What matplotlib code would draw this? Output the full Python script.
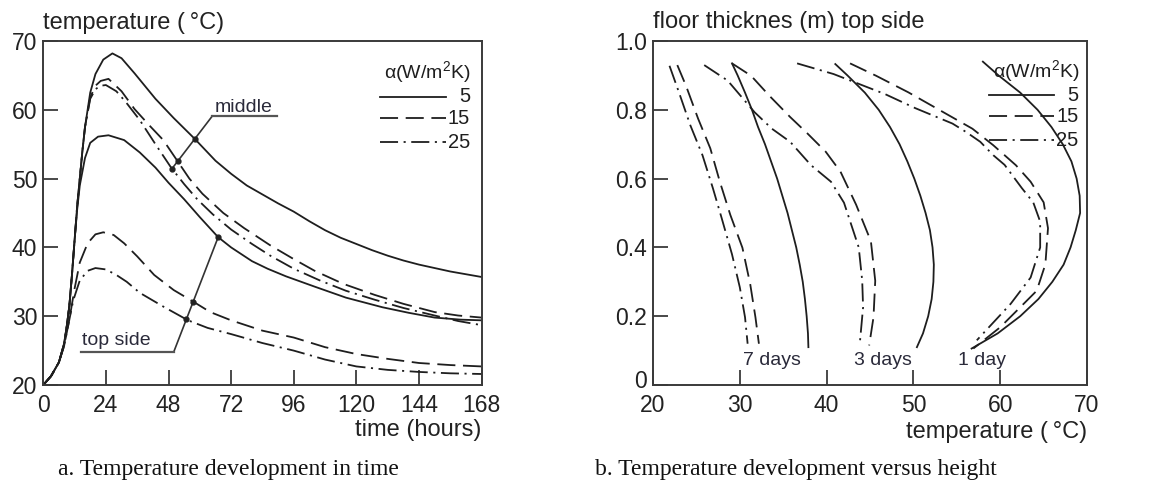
import numpy as np
import matplotlib
matplotlib.use("Agg")
import matplotlib.pyplot as plt
import matplotlib.transforms as mtransforms

plt.rcParams['font.family'] = ['Liberation Sans', 'DejaVu Sans']
plt.rcParams['mathtext.fontset'] = 'custom'
plt.rcParams['mathtext.rm'] = 'Liberation Sans'
plt.rcParams['mathtext.it'] = 'Liberation Sans:italic'
plt.rcParams['lines.scale_dashes'] = False

# ---------------- data: panel a (time, temperature) ----------------
rise_t = [0, 3, 6, 8, 9, 10, 11, 12, 13]
rise_T = [20, 21.3, 23.3, 26, 28.5, 31.5, 36, 41, 46]

mid5_t = rise_t + [14, 15, 16, 18, 20, 23, 26.5, 30, 35, 43, 50, 58, 66, 72, 78, 84, 90, 96, 102, 108, 114, 120, 126, 132, 138, 144, 150, 156, 162, 168]
mid5_T = rise_T + [50, 54, 57.5, 62.5, 65.2, 67.3, 68.2, 67.5, 65.3, 61.6, 58.8, 55.8, 52.6, 50.7, 49.0, 47.7, 46.4, 45.2, 43.8, 42.5, 41.4, 40.5, 39.6, 38.8, 38.1, 37.5, 37.0, 36.5, 36.1, 35.7]

mid15_t = rise_t + [14, 15, 16, 18, 20, 22, 25, 30, 35, 41, 46, 51, 56, 61, 69, 77, 87, 96, 104, 115, 127, 138, 150, 159, 168]
mid15_T = rise_T + [50, 54, 57.5, 61.8, 63.5, 64.2, 64.5, 62.7, 60.1, 57.6, 55.6, 52.8, 50.0, 47.8, 45.0, 42.8, 40.3, 38.3, 36.6, 34.7, 33.1, 31.8, 30.6, 30.1, 29.8]

mid25_t = rise_t + [14, 15, 16, 18, 20, 22, 24, 28, 31.5, 37, 43, 49, 54, 59, 65, 72, 80, 87, 96, 106, 116, 127, 138, 150, 159, 168]
mid25_T = rise_T + [50, 54, 57.5, 61.6, 63.0, 63.5, 63.6, 62.7, 61.2, 58.5, 55.0, 51.6, 49.2, 47.0, 44.8, 42.6, 40.5, 38.8, 36.9, 35.2, 33.7, 32.4, 31.2, 30.1, 29.3, 28.7]

top5_t = rise_t + [14, 16, 18, 21, 25, 31, 37, 43, 48, 54, 60, 67, 72, 80, 86, 93, 104, 110, 116, 130, 140, 150, 160, 168]
top5_T = rise_T[:-1] + [45.5, 49, 53, 55.2, 56.1, 56.3, 55.6, 53.8, 51.6, 49.4, 47.0, 44.4, 41.5, 40.0, 38.0, 36.9, 35.8, 34.3, 33.5, 32.7, 31.3, 30.5, 29.8, 29.5, 29.4]

top15_t = [0, 3, 6, 8, 10, 12, 14, 17, 20, 23, 27, 31, 36, 42.5, 50, 58, 64, 72, 84, 96, 108, 120, 132, 144, 156, 168]
top15_T = [20, 21.3, 23.3, 25.7, 29.5, 34, 37.8, 40.6, 41.9, 42.2, 41.8, 40.6, 38.7, 36.0, 33.8, 32.0, 30.6, 29.4, 27.9, 26.9, 25.5, 24.5, 23.8, 23.2, 22.9, 22.7]

top25_t = [0, 3, 6, 8, 10, 11.5, 14, 17, 20, 24, 28, 32, 37, 46, 55.5, 63, 72, 84, 96, 108, 120, 132, 144, 156, 168]
top25_T = [20, 21.3, 23.3, 25.7, 29.5, 32.3, 35.2, 36.6, 37.0, 36.8, 36.0, 35.0, 33.4, 31.4, 29.4, 28.3, 27.4, 26.1, 25.0, 23.7, 22.7, 22.2, 21.9, 21.7, 21.6]

# ---------------- data: panel b (temperature, height) ----------------
d7_5_h = [0.935, 0.90, 0.85, 0.80, 0.75, 0.70, 0.65, 0.60, 0.55, 0.50, 0.45, 0.40, 0.35, 0.30, 0.25, 0.20, 0.15, 0.11]
d7_5_T = [29.1, 29.75, 30.6, 31.4, 32.1, 32.9, 33.6, 34.3, 34.9, 35.5, 36.0, 36.5, 36.9, 37.25, 37.5, 37.7, 37.85, 37.9]
d7_15_h = [0.93, 0.87, 0.774, 0.688, 0.591, 0.495, 0.399, 0.293, 0.197, 0.12]
d7_15_T = [22.8, 23.8, 25.2, 26.6, 27.7, 28.9, 30.3, 31.2, 31.8, 32.2]
d7_25_h = [0.928, 0.85, 0.755, 0.668, 0.572, 0.486, 0.38, 0.284, 0.197, 0.12]
d7_25_T = [21.9, 23.0, 24.3, 25.7, 26.9, 27.9, 29.1, 30.0, 30.6, 30.9]

d3_5_h = [0.933, 0.90, 0.85, 0.80, 0.75, 0.70, 0.65, 0.60, 0.55, 0.50, 0.45, 0.40, 0.35, 0.30, 0.25, 0.20, 0.15, 0.11]
d3_5_T = [41.0, 42.4, 44.4, 46.0, 47.3, 48.4, 49.3, 50.1, 50.8, 51.4, 51.9, 52.2, 52.35, 52.3, 52.1, 51.7, 51.1, 50.4]
d3_15_h = [0.935, 0.899, 0.841, 0.779, 0.731, 0.678, 0.62, 0.524, 0.418, 0.303, 0.197, 0.115]
d3_15_T = [29.1, 31.3, 33.4, 35.8, 37.8, 39.9, 41.6, 43.4, 45.1, 45.6, 45.4, 44.9]
d3_25_h = [0.93, 0.885, 0.793, 0.745, 0.707, 0.639, 0.591, 0.53, 0.4, 0.303, 0.226, 0.115]
d3_25_T = [25.9, 28.6, 31.7, 33.7, 35.8, 38.2, 40.5, 42.0, 43.7, 44.1, 44.2, 43.8]

d1_5_h = [0.94, 0.90, 0.85, 0.80, 0.75, 0.70, 0.65, 0.60, 0.55, 0.50, 0.45, 0.40, 0.35, 0.30, 0.25, 0.20, 0.15, 0.106]
d1_5_T = [58.0, 59.8, 62.3, 64.3, 65.9, 67.2, 68.2, 68.8, 69.15, 69.2, 68.7, 68.1, 67.3, 66.0, 64.4, 62.3, 59.7, 56.7]
d1_15_h = [0.935, 0.899, 0.851, 0.798, 0.745, 0.697, 0.639, 0.591, 0.531, 0.456, 0.351, 0.274, 0.226, 0.168, 0.106]
d1_15_T = [42.7, 45.7, 49.4, 53.1, 56.8, 59.2, 61.8, 63.5, 65.0, 65.5, 65.2, 64.2, 62.3, 60.0, 56.9]
d1_25_h = [0.935, 0.904, 0.846, 0.805, 0.76, 0.735, 0.707, 0.668, 0.64, 0.572, 0.531, 0.475, 0.40, 0.3125, 0.236, 0.13]
d1_25_T = [36.6, 40.8, 46.7, 50.2, 54.5, 56.1, 57.7, 59.2, 60.5, 62.5, 63.8, 64.6, 64.6, 63.5, 61.2, 57.3]

alpha_labels = ["5", "15", "25"]
time_ticks = [0, 24, 48, 72, 96, 120, 144, 168]
tempA_ticks = [20, 30, 40, 50, 60, 70]
tempB_ticks = [20, 30, 40, 50, 60, 70]
height_ticks = [0, 0.2, 0.4, 0.6, 0.8, 1.0]
height_labels = ["0", "0.2", "0.4", "0.6", "0.8", "1.0"]

# ---------------- styles ----------------
INK = '#1e1e1e'
LW = 1.3
styles = [dict(linestyle='-'),
          dict(linestyle=(0, (13, 5.5))),
          dict(linestyle=(0, (13, 4, 1.5, 4)))]

fig = plt.figure(figsize=(11.69, 4.86), dpi=100)
axA = fig.add_axes([0.0370, 0.2078, 0.3750, 0.7078])
axB = fig.add_axes([0.5586, 0.2078, 0.3713, 0.7078])

for ax in (axA, axB):
    for s in ax.spines.values():
        s.set_linewidth(1.4)
        s.set_color('#3a3a3a')
    ax.tick_params(direction='in', length=11, width=1.3, color='#3a3a3a',
                   labelsize=16.5, labelcolor='#222222')
    ax.tick_params(axis='x', pad=6.5)
    ax.tick_params(axis='y', pad=4.3)

# ---- panel a ----
for (x, y), st in zip([(mid5_t, mid5_T), (mid15_t, mid15_T), (mid25_t, mid25_T)], styles):
    axA.plot(x, y, color=INK, lw=LW, **st)
for (x, y), st in zip([(top5_t, top5_T), (top15_t, top15_T), (top25_t, top25_T)], styles):
    axA.plot(x, y, color=INK, lw=LW, **st)

axA.set_xlim(0, 168)
axA.set_ylim(20, 70)
axA.set_xticks(time_ticks)
axA.set_yticks(tempA_ticks)


def crossing(p0, p1, xs, ys):
    """intersection of segment p0-p1 with a polyline"""
    best = None
    x0, y0 = p0
    dx, dy = p1[0] - x0, p1[1] - y0
    for i in range(len(xs) - 1):
        ax_, ay_ = xs[i], ys[i]
        bx, by = xs[i + 1], ys[i + 1]
        ex, ey = bx - ax_, by - ay_
        den = dx * ey - dy * ex
        if abs(den) < 1e-12:
            continue
        s = ((ax_ - x0) * ey - (ay_ - y0) * ex) / den
        u = ((ax_ - x0) * dy - (ay_ - y0) * dx) / den
        if 0 <= s <= 1 and 0 <= u <= 1:
            if best is None or s < best[0]:
                best = (s, x0 + s * dx, y0 + s * dy)
    return best


def leader(ax, start, towards, curves):
    pts = [crossing(start, towards, x, y) for x, y in curves]
    pts = [p for p in pts if p is not None]
    end = max(pts, key=lambda p: p[0])
    ax.plot([start[0], end[1]], [start[1], end[2]], color='#333333', lw=1.2)
    ax.plot([p[1] for p in pts], [p[2] for p in pts], 'o', ms=3.5, color='#222222')


leader(axA, (64.8, 59.1), (45.0, 49.3),
       [(mid5_t, mid5_T), (mid15_t, mid15_T), (mid25_t, mid25_T)])
axA.plot([64.8, 89.6], [59.1, 59.1], color='#555555', lw=1.6)
axA.text(65.6, 59.7, "middle", fontsize=14, color='#2a2a3a', va='baseline', ha='left')

leader(axA, (50.0, 24.8), (70.0, 44.4),
       [(top15_t, top15_T), (top25_t, top25_T), (top5_t, top5_T)])
axA.plot([14.5, 50.0], [24.8, 24.8], color='#555555', lw=1.6)
axA.text(14.8, 25.8, "top side", fontsize=14, color='#2a2a3a', va='baseline', ha='left')

# legend a
axA.text(147, 65.5, r"α(W/m$^{2}$K)", fontsize=14, ha='center', va='center', color=INK)
for yy, st, lab in zip([61.9, 58.8, 55.3], styles, alpha_labels):
    axA.plot([129, 154.2], [yy, yy], color=INK, lw=LW, **st)
    axA.text(163.5, yy, lab, fontsize=14.5, ha='right', va='center', color=INK)

axA.text(0, 1.052, "temperature (\u2009°C)", transform=axA.transAxes, fontsize=17,
         ha='left', va='center', color='#222222')
axA.text(1.0, -0.131, "time (hours)", transform=axA.transAxes, fontsize=17,
         ha='right', va='center', color='#222222')

# ---- panel b ----
groups = [[(d7_5_T, d7_5_h), (d7_15_T, d7_15_h), (d7_25_T, d7_25_h)],
          [(d3_5_T, d3_5_h), (d3_15_T, d3_15_h), (d3_25_T, d3_25_h)],
          [(d1_5_T, d1_5_h), (d1_15_T, d1_15_h), (d1_25_T, d1_25_h)]]
for grp in groups:
    for (x, y), st in zip(grp, styles):
        axB.plot(x, y, color=INK, lw=LW, **st)

axB.set_xlim(20, 70)
axB.set_ylim(0, 1.0)
axB.set_xticks(tempB_ticks)
axB.set_yticks(height_ticks)
axB.set_yticklabels(height_labels)
# lift the bottom "0" label a little so it clears the "20" below it
lbl0 = axB.get_yticklabels()[0]
lbl0.set_transform(lbl0.get_transform() +
                   mtransforms.ScaledTranslation(0, 4 / 72, fig.dpi_scale_trans))

for txt, xx in zip(["7 days", "3 days", "1 day"], [30.4, 43.1, 55.1]):
    axB.text(xx, 0.072, txt, fontsize=14, ha='left', va='center', color='#2a2a3a')

axB.text(64.1, 0.913, r"α(W/m$^{2}$K)", fontsize=14, ha='center', va='center', color=INK)
for yy, st, lab in zip([0.842, 0.781, 0.712], styles, alpha_labels):
    axB.plot([58.7, 66.2], [yy, yy], color=INK, lw=LW, **st)
    axB.text(69.0, yy, lab, fontsize=14.5, ha='right', va='center', color=INK)

axB.text(0, 1.055, "floor thicknes (m) top side", transform=axB.transAxes, fontsize=17,
         ha='left', va='center', color='#222222')
axB.text(1.0, -0.137, "temperature (\u2009°C)", transform=axB.transAxes, fontsize=17,
         ha='right', va='center', color='#222222')

# captions
fig.text(58 / 1169, 0.033, "a. Temperature development in time",
         family=['Liberation Serif', 'DejaVu Serif'], fontsize=17, ha='left', va='center', color='#111111')
fig.text(595 / 1169, 0.033, "b. Temperature development versus height",
         family=['Liberation Serif', 'DejaVu Serif'], fontsize=17, ha='left', va='center', color='#111111')

fig.savefig("out.png", dpi=100)
